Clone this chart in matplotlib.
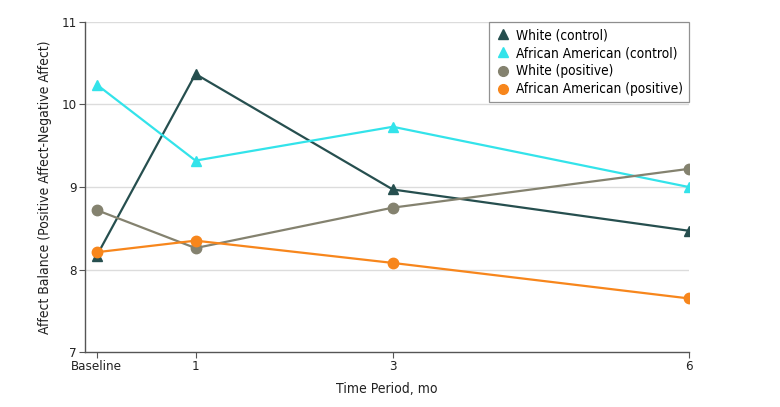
import matplotlib
matplotlib.use("Agg")
import matplotlib.pyplot as plt
from matplotlib import font_manager

# 参考图用的是窄体字；有 Liberation Sans Narrow 就用它，否则退到 DejaVu 压缩体
_names = {f.name for f in font_manager.fontManager.ttflist}
if "Liberation Sans Narrow" in _names:
    plt.rcParams["font.family"] = ["Liberation Sans Narrow", "DejaVu Sans"]
else:
    plt.rcParams["font.family"] = ["DejaVu Sans"]
    plt.rcParams["font.stretch"] = "condensed"

# 数据：时间点（月）与各组情感平衡均值
months = [0, 1, 3, 6]
tick_labels = ["Baseline", "1", "3", "6"]

white_control = [8.17, 10.37, 8.97, 8.47]
aa_control = [10.24, 9.32, 9.73, 9.00]
white_positive = [8.72, 8.26, 8.75, 9.22]
aa_positive = [8.21, 8.35, 8.08, 7.65]

series = [
    ("White (control)", white_control, "#264f4f", "^"),
    ("African American (control)", aa_control, "#33e3ea", "^"),
    ("White (positive)", white_positive, "#84826f", "o"),
    ("African American (positive)", aa_positive, "#f7861c", "o"),
]

fig = plt.figure(figsize=(7.8, 4.07), dpi=100)
ax = fig.add_axes([0.109, 0.135, 0.774, 0.811])

for label, vals, color, marker in series:
    ax.plot(months, vals, color=color, lw=1.6, marker=marker, ms=7.5,
            label=label, zorder=3)

ax.set_xlim(-0.12, 6)
ax.set_ylim(7, 11)
ax.set_yticks([7, 8, 9, 10, 11])
ax.set_xticks(months)
ax.set_xticklabels(tick_labels)
for y in [8, 9, 10, 11]:
    ax.axhline(y, color="#dcdcdc", lw=1.0, zorder=1)

for s in ["top", "right"]:
    ax.spines[s].set_visible(False)
for s in ["left", "bottom"]:
    ax.spines[s].set_color("#555555")
    ax.spines[s].set_linewidth(1.0)
ax.tick_params(axis="both", colors="#555555", labelcolor="#222222",
               labelsize=9.5, length=4, width=0.8, pad=2)

ax.set_xlabel("Time Period, mo", fontsize=10, color="#222222", labelpad=6)
ax.set_ylabel("Affect Balance (Positive Affect-Negative Affect)", fontsize=10,
              color="#222222", labelpad=7)

# 图例只显示标记
handles = [plt.Line2D([], [], ls="none", marker=m, color=c, ms=7)
           for _, _, c, m in series]
leg = ax.legend(handles, [s[0] for s in series], loc="upper right",
                bbox_to_anchor=(1.0, 1.0), fontsize=9.8, frameon=True,
                fancybox=False, handletextpad=0.3, handlelength=1.2,
                labelspacing=0.3, borderpad=0.45, borderaxespad=0.0)
leg.get_frame().set_edgecolor("#777777")
leg.get_frame().set_linewidth(0.9)

fig.savefig("out.png", dpi=100)
